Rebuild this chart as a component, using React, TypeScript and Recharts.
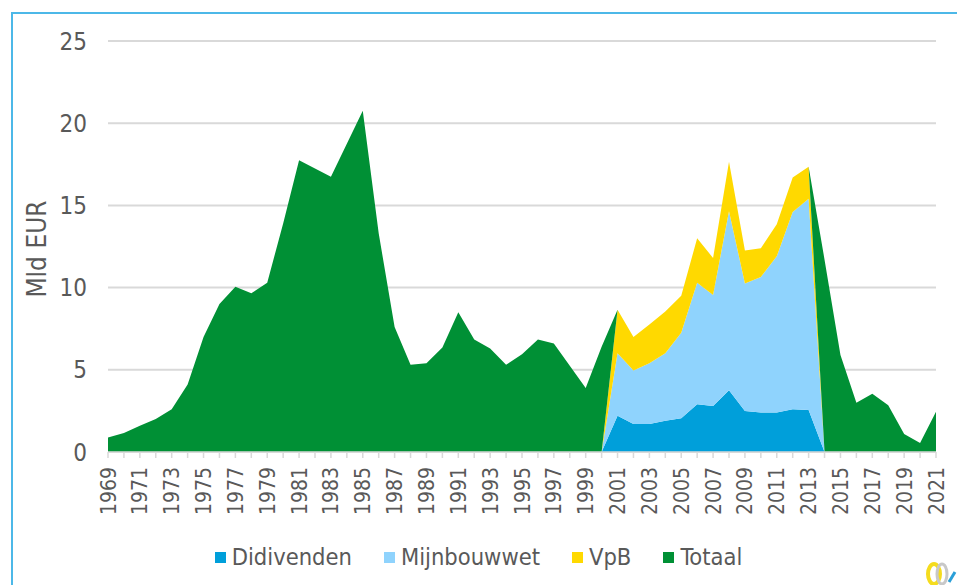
import { AreaChart, Area, XAxis, YAxis, CartesianGrid } from 'recharts';

const years = [
  '1969', '1970', '1971', '1972', '1973', '1974', '1975', '1976', '1977', '1978',
  '1979', '1980', '1981', '1982', '1983', '1984', '1985', '1986', '1987', '1988',
  '1989', '1990', '1991', '1992', '1993', '1994', '1995', '1996', '1997', '1998',
  '1999', '2000', '2001', '2002', '2003', '2004', '2005', '2006', '2007', '2008',
  '2009', '2010', '2011', '2012', '2013', '2014', '2015', '2016', '2017', '2018',
  '2019', '2020', '2021',
];

const didivenden = [
  0, 0, 0, 0, 0, 0, 0, 0, 0, 0,
  0, 0, 0, 0, 0, 0, 0, 0, 0, 0,
  0, 0, 0, 0, 0, 0, 0, 0, 0, 0,
  0, 0, 2.2, 1.7, 1.7, 1.9, 2.05, 2.9, 2.8, 3.75,
  2.5, 2.4, 2.4, 2.6, 2.55, 0, 0, 0, 0, 0,
  0, 0, 0,
];

const mijnbouwwet = [
  0, 0, 0, 0, 0, 0, 0, 0, 0, 0,
  0, 0, 0, 0, 0, 0, 0, 0, 0, 0,
  0, 0, 0, 0, 0, 0, 0, 0, 0, 0,
  0, 0, 3.8, 3.25, 3.7, 4.1, 5.2, 7.4, 6.75, 10.9,
  7.75, 8.25, 9.5, 12.0, 12.85, 0, 0, 0, 0, 0,
  0, 0, 0,
];

const vpb = [
  0, 0, 0, 0, 0, 0, 0, 0, 0, 0,
  0, 0, 0, 0, 0, 0, 0, 0, 0, 0,
  0, 0, 0, 0, 0, 0, 0, 0, 0, 0,
  0, 0, 2.65, 2.05, 2.35, 2.55, 2.25, 2.7, 2.25, 3.0,
  2.0, 1.75, 1.95, 2.1, 1.95, 0, 0, 0, 0, 0,
  0, 0, 0,
];

const totaal = [
  0.88, 1.15, 1.6, 2.0, 2.6, 4.1, 7.0, 9.0, 10.05, 9.65,
  10.3, 13.9, 17.75, 17.25, 16.75, 18.75, 20.75, 13.3, 7.6, 5.3,
  5.4, 6.35, 8.5, 6.85, 6.3, 5.3, 5.95, 6.85, 6.6, 5.25,
  3.9, 6.4, 0, 0, 0, 0, 0, 0, 0, 0,
  0, 0, 0, 0, 0, 11.7, 5.9, 3.0, 3.55, 2.85,
  1.1, 0.55, 2.45,
];

const yTicks = [0, 5, 10, 15, 20, 25];

const series = [
  { key: 'didivenden', name: 'Didivenden', color: '#009fda' },
  { key: 'mijnbouwwet', name: 'Mijnbouwwet', color: '#8fd3fd' },
  { key: 'vpb', name: 'VpB', color: '#ffd900' },
  { key: 'totaal', name: 'Totaal', color: '#009035' },
];

const data = years.map((year, i) => ({
  year,
  didivenden: didivenden[i],
  mijnbouwwet: mijnbouwwet[i],
  vpb: vpb[i],
  totaal: totaal[i],
}));

const FONT = "'DejaVu Sans Condensed', 'DejaVu Sans', sans-serif";
const TEXT = '#595959';
const GRID = '#d9d9d9';

const YearTick = (props: any) => {
  const { x, y, payload } = props;
  if ((Number(payload.value) - 1969) % 2 !== 0) return <g />;
  return (
    <text
      x={x}
      y={y}
      dy="0.36em"
      textAnchor="end"
      fill={TEXT}
      fontSize={21}
      fontFamily={FONT}
      transform={`rotate(-90, ${x}, ${y})`}
    >
      {payload.value}
    </text>
  );
};

const App = () => {
  return (
    <div
      style={{
        position: 'absolute',
        left: 0,
        top: 0,
        width: 957,
        height: 585,
        overflow: 'hidden',
        background: '#fff',
        fontFamily: FONT,
      }}
    >
      <div
        style={{
          position: 'absolute',
          left: 11,
          top: 12,
          width: 1000,
          height: 700,
          border: '2px solid #4cb8e8',
        }}
      />
      <div
        style={{
          position: 'absolute',
          left: 37,
          top: 249,
          transform: 'translate(-50%, -50%) rotate(-90deg)',
          whiteSpace: 'nowrap',
          fontSize: 26,
          color: TEXT,
        }}
      >
        Mld EUR
      </div>
      <div style={{ position: 'absolute', left: 0, top: 0 }}>
        <AreaChart
          width={957}
          height={585}
          data={data}
          margin={{ top: 41, right: 21, bottom: 73, left: 48 }}
        >
          <CartesianGrid vertical={false} stroke={GRID} strokeWidth={2} />
          <XAxis
            dataKey="year"
            interval={0}
            height={60}
            axisLine={{ stroke: GRID, strokeWidth: 1.5 }}
            tickLine={{ stroke: GRID, strokeWidth: 1.5 }}
            tickSize={6}
            tickMargin={9}
            tick={<YearTick />}
          />
          <YAxis
            width={60}
            domain={[0, 25]}
            ticks={yTicks}
            axisLine={false}
            tickLine={false}
            tickMargin={15}
            tick={{ fill: TEXT, fontSize: 24, fontFamily: FONT }}
          />
          {series.map((s) => (
            <Area
              key={s.key}
              type="linear"
              dataKey={s.key}
              name={s.name}
              stackId="a"
              stroke="none"
              fill={s.color}
              fillOpacity={1}
              isAnimationActive={false}
            />
          ))}
        </AreaChart>
      </div>
      <div
        style={{
          position: 'absolute',
          left: 0,
          top: 543,
          width: 957,
          display: 'flex',
          justifyContent: 'center',
          gap: 32,
          fontSize: 23.5,
          color: TEXT,
        }}
      >
        {series.map((s) => (
          <div key={s.key} style={{ display: 'flex', alignItems: 'center' }}>
            <span
              style={{
                display: 'inline-block',
                width: 11,
                height: 11,
                background: s.color,
                marginRight: 6,
              }}
            />
            <span>{s.name}</span>
          </div>
        ))}
      </div>
      <svg style={{ position: 'absolute', left: 922, top: 560 }} width={35} height={25}>
        <ellipse cx={12} cy={14} rx={6} ry={10} fill="none" stroke="#f5dc1e" strokeWidth={4} />
        <ellipse cx={20} cy={14} rx={5} ry={10} fill="none" stroke="#c8c8c8" strokeWidth={3} />
        <path d="M27 22 L33 12" stroke="#2a9fd8" strokeWidth={3} />
      </svg>
    </div>
  );
};

export default App;
